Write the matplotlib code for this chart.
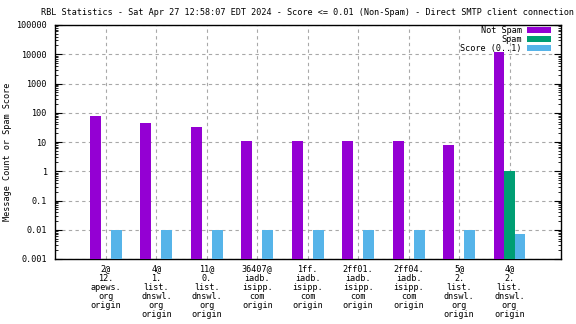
import matplotlib
matplotlib.use("Agg")
import matplotlib.pyplot as plt
import numpy as np

# labels and values
categories = ["2@\n12.\napews.\norg\norigin",
              "4@\n1.\nlist.\ndnswl.\norg\norigin",
              "11@\n0.\nlist.\ndnswl.\norg\norigin",
              "36407@\niadb.\nisipp.\ncom\norigin",
              "1ff.\niadb.\nisipp.\ncom\norigin",
              "2ff01.\niadb.\nisipp.\ncom\norigin",
              "2ff04.\niadb.\nisipp.\ncom\norigin",
              "5@\n2.\nlist.\ndnswl.\norg\norigin",
              "4@\n2.\nlist.\ndnswl.\norg\norigin"]
not_spam = [80, 46, 33, 11, 11, 11, 11, 8, 12000]
spam = [0, 0, 0, 0, 0, 0, 0, 0, 1]
score = [0.01, 0.01, 0.01, 0.01, 0.01, 0.01, 0.01, 0.01, 0.0073]

title = "RBL Statistics - Sat Apr 27 12:58:07 EDT 2024 - Score <= 0.01 (Non-Spam) - Direct SMTP client connection"

plt.rcParams['font.family'] = 'DejaVu Sans Mono'
FS = 6.1

fig = plt.figure(figsize=(5.76, 3.24), dpi=100)
ax = fig.add_axes([55/576, 65/324, 506/576, 234/324])

x = np.arange(len(categories))
off = 0.208   # distance between bars in a group
w = 0.215
ax.bar(x - off, not_spam, w, color="#9400D3", label="Not Spam", zorder=3)
ax.bar(x, [v if v > 0 else np.nan for v in spam], w, color="#009E73", label="Spam", zorder=3)
ax.bar(x + off, score, w, color="#56B4E9", label="Score (0..1)", zorder=3)

ax.set_yscale("log")
ax.set_ylim(0.001, 100000)
ax.set_xlim(-1.01, 9.02)
ax.set_yticks([10.0**k for k in range(-3, 6)])
ax.set_yticklabels(["0.001", "0.01", "0.1", "1", "10", "100", "1000", "10000", "100000"])
ax.set_xticks(x)
ax.set_xticklabels(categories, fontsize=FS, linespacing=1.0, ha="center", va="top")
ax.tick_params(axis="y", labelsize=FS, direction="in", right=True, which="both", pad=6)
ax.tick_params(axis="y", which="major", length=5)
ax.tick_params(axis="y", which="minor", length=2.5)
ax.tick_params(axis="x", direction="in", length=0, pad=4)
ax.grid(True, which="major", color="#a8a8a8", linestyle=(0, (3, 3)), linewidth=0.8, zorder=0)
for s in ax.spines.values():
    s.set_linewidth(1.0)

ax.set_ylabel("Message Count or Spam Score", fontsize=FS)
ax.yaxis.set_label_coords(-0.084, 0.46)
fig.suptitle(title, fontsize=FS, x=0.533, y=0.975)

leg = ax.legend(loc="upper right", bbox_to_anchor=(0.98, 0.995), fontsize=FS,
                frameon=False, markerfirst=False, borderpad=0,
                handlelength=2.85, handleheight=0.6, labelspacing=0.0,
                borderaxespad=0, handletextpad=0.6)
for t in leg.get_texts():
    t.set_ha("right")

fig.savefig("out.png", dpi=100)
